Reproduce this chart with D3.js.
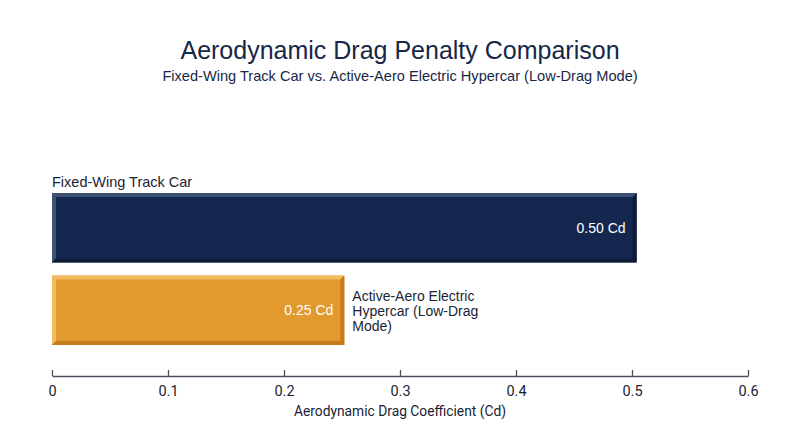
<!DOCTYPE html>
<html>
<head>
<meta charset="utf-8">
<script src="https://cdn.jsdelivr.net/npm/d3@7"></script>
<style>
  body { margin: 0; background: #fff; }
  text { font-family: "Liberation Sans", Arial, sans-serif; }
</style>
</head>
<body>
<div id="chart"></div>
<script>
var categories = ["Fixed-Wing Track Car", "Active-Aero Electric Hypercar (Low-Drag Mode)"];
var values = [0.504, 0.252];
var tickValues = [0, 0.1, 0.2, 0.3, 0.4, 0.5, 0.6];

var width = 800,
    height = 447,
    margin = { left: 52, right: 52 };

var fills = ["#14284f", "#e2992d"],
    lights = ["#3f5275", "#f2bb62"],
    darks = ["#0c1a36", "#c47d18"];

var svg = d3.select("#chart").append("svg")
    .attr("width", width)
    .attr("height", height);

var x = d3.scaleLinear()
    .domain([0, 0.6])
    .range([margin.left, width - margin.right]);

var y = d3.scaleBand()
    .domain(categories)
    .range([193, 345])
    .paddingInner(0.16);

svg.append("text")
    .attr("x", width / 2)
    .attr("y", 59)
    .attr("text-anchor", "middle")
    .attr("fill", "#172748")
    .style("font-size", "25px")
    .text("Aerodynamic Drag Penalty Comparison");

svg.append("text")
    .attr("x", width / 2)
    .attr("y", 81)
    .attr("text-anchor", "middle")
    .attr("fill", "#172748")
    .style("font-size", "14.6px")
    .text("Fixed-Wing Track Car vs. Active-Aero Electric Hypercar (Low-Drag Mode)");

var bars = svg.append("g").selectAll("g")
    .data(categories)
    .enter().append("g");

var b = 4;

bars.each(function (d, i) {
    var g = d3.select(this),
        x0 = x(0), x1 = x(values[i]),
        y0 = y(d), y1 = y(d) + y.bandwidth();

    g.append("rect")
        .attr("x", x0).attr("y", y0)
        .attr("width", x1 - x0).attr("height", y1 - y0)
        .attr("fill", fills[i]);
    // bevel: light top/left, dark bottom/right
    g.append("path")
        .attr("d", "M" + x0 + "," + y0 + "H" + x1 + "L" + (x1 - b) + "," + (y0 + b) + "H" + (x0 + b) + "V" + (y1 - b) + "L" + x0 + "," + y1 + "Z")
        .attr("fill", lights[i]);
    g.append("path")
        .attr("d", "M" + x1 + "," + y0 + "V" + y1 + "H" + x0 + "L" + (x0 + b) + "," + (y1 - b) + "H" + (x1 - b) + "V" + (y0 + b) + "Z")
        .attr("fill", darks[i]);
    g.append("text")
        .attr("x", x1 - 11)
        .attr("y", (y0 + y1) / 2 + 5)
        .attr("text-anchor", "end")
        .attr("fill", "#fff")
        .style("font-size", "14px")
        .text(d3.format(".2f")(values[i]) + " Cd");
});

// category labels
svg.append("text")
    .attr("x", x(0))
    .attr("y", y(categories[0]) - 6)
    .attr("fill", "#1b2433")
    .style("font-size", "14.5px")
    .text(categories[0]);

var lbl = svg.append("text")
    .attr("x", x(values[1]) + 8)
    .attr("y", y(categories[1]) + 25)
    .attr("fill", "#1b2433")
    .style("font-size", "14px");
["Active-Aero Electric", "Hypercar (Low-Drag", "Mode)"].forEach(function (t, i) {
    lbl.append("tspan")
        .attr("x", x(values[1]) + 8)
        .attr("dy", i ? 15 : 0)
        .text(t);
});

var axis = svg.append("g")
    .attr("transform", "translate(0,376)")
    .call(d3.axisBottom(x).tickValues(tickValues).tickSizeInner(-6).tickSizeOuter(0).tickPadding(6)
        .tickFormat(function (d) { return d === 0 ? "0" : d3.format(".1f")(d); }));
axis.attr("font-size", null).attr("font-family", null);
axis.select(".domain").attr("stroke", "#4a5060").attr("stroke-width", 1.3);
axis.selectAll(".tick line").attr("stroke", "#4a5060").attr("stroke-width", 1.3);
axis.selectAll(".tick text")
    .attr("fill", "#1b2433")
    .style("font-size", "14.5px")
    .style("font-family", "Roboto, sans-serif")
    .attr("dy", "0.95em");

svg.append("text")
    .attr("x", width / 2)
    .attr("y", 416)
    .attr("text-anchor", "middle")
    .attr("fill", "#1b2433")
    .style("font-size", "13.8px")
    .style("font-family", "Roboto, sans-serif")
    .text("Aerodynamic Drag Coefficient (Cd)");
</script>
</body>
</html>
